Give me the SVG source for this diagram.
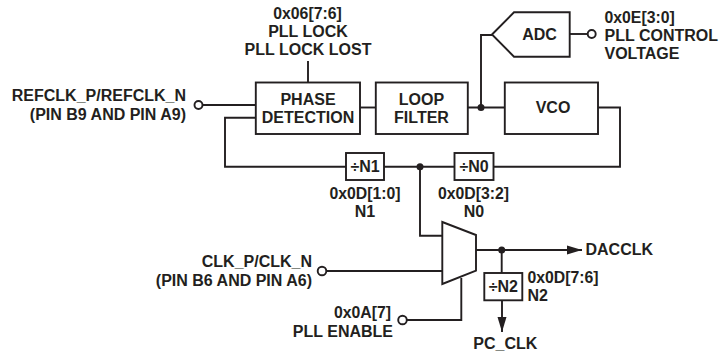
<svg xmlns="http://www.w3.org/2000/svg" width="721" height="358" viewBox="0 0 721 358">
<defs>
<marker id="arrow" markerUnits="userSpaceOnUse" markerWidth="16" markerHeight="10" refX="15" refY="5" orient="auto"><path d="M0 0.5L15 5L0 9.5Z" fill="#231f20"/></marker>
</defs>
<style>
text{font-family:"Liberation Sans",Arial,sans-serif;font-weight:700;font-size:16px;fill:#231f20}
.m{text-anchor:middle}.e{text-anchor:end}
.n{font-size:15.8px}
.b{fill:#fff;stroke:#231f20;stroke-width:1.9}
.w{fill:none;stroke:#231f20;stroke-width:1.9}
.d{fill:#231f20}
.o{fill:#fff;stroke:#231f20;stroke-width:1.9}
</style>
<rect width="721" height="358" fill="#fff"/>
<g id="connectors">
<path class="w" d="M308 61V82.5"/>
<path class="w" d="M203 105H256"/>
<path class="w" d="M256 117.7H225V166.7H346"/>
<path class="w" d="M360 107.5H376"/>
<path class="w" d="M467.7 107.5H505"/>
<path class="w" d="M481 107.5V35H492"/>
<path class="w" d="M569.7 34H587.5"/>
<path class="w" d="M598 107.5H620V166.7H493.5"/>
<path class="w" d="M384 166.7H454.5"/>
<path class="w" d="M420 166.7V235.7H442.3"/>
<path class="w" d="M327 271H442.3"/>
<path class="w" d="M407 320H461.3V278"/>
<path class="w" d="M476 250H582" marker-end="url(#arrow)"/>
<path class="w" d="M501.7 250V273"/>
<path class="w" d="M502 300.5V332" marker-end="url(#arrow)"/>
<circle class="d" cx="481" cy="107.5" r="3.5"/>
<circle class="d" cx="420" cy="166.7" r="3.5"/>
<circle class="d" cx="501.7" cy="250" r="3.5"/>
<circle class="o" cx="198.5" cy="105" r="4"/>
<circle class="o" cx="591.7" cy="34" r="4"/>
<circle class="o" cx="322" cy="271" r="4.3"/>
<circle class="o" cx="402.5" cy="320" r="4.3"/>
</g>
<g id="phase"><rect class="b" x="255.8" y="82.5" width="104.2" height="51.5"/><text class="m" x="308" y="105">PHASE</text><text class="m" x="308" y="123">DETECTION</text></g>
<g id="loop"><rect class="b" x="375.8" y="82.5" width="92" height="51.5"/><text class="m" x="421.5" y="105">LOOP</text><text class="m" x="421.5" y="123">FILTER</text></g>
<g id="vco"><rect class="b" x="504.8" y="82.5" width="93.2" height="51.5"/><text class="m" x="553" y="112.5">VCO</text></g>
<g id="adc"><path class="b" d="M492 34.5L514 12.3H569.7V56.7H514Z"/><text class="m" x="539.5" y="39.5">ADC</text></g>
<g id="n1"><rect class="b" x="346" y="153" width="38" height="27"/><text class="m" x="365" y="172">÷N1</text></g>
<g id="n0"><rect class="b" x="454.5" y="153" width="39" height="27"/><text class="m" x="474" y="172">÷N0</text></g>
<g id="n2"><rect class="b" x="484.3" y="273" width="38" height="27.3"/><text class="m" x="503.3" y="292">÷N2</text></g>
<g id="mux"><path class="b" d="M442.3 222L476 235V270.7L442.3 284Z"/></g>
<g id="labels">
<text class="m n" x="307.5" y="18.5">0x06[7:6]</text>
<text class="m" x="308" y="37">PLL LOCK</text>
<text class="m" x="308" y="55">PLL LOCK LOST</text>
<text class="e" x="186" y="101">REFCLK_P/REFCLK_N</text>
<text class="e" x="186" y="120">(PIN B9 AND PIN A9)</text>
<text class="n" x="604.5" y="22.5">0x0E[3:0]</text>
<text x="604.5" y="40.5">PLL CONTROL</text>
<text x="604.5" y="59">VOLTAGE</text>
<text class="m n" x="365" y="198.5">0x0D[1:0]</text>
<text class="m" x="365" y="217">N1</text>
<text class="m n" x="473.5" y="198.5">0x0D[3:2]</text>
<text class="m" x="474" y="217">N0</text>
<text class="e" x="312" y="267">CLK_P/CLK_N</text>
<text class="e" x="312" y="286">(PIN B6 AND PIN A6)</text>
<text class="e n" x="391" y="318">0x0A[7]</text>
<text class="e" x="393" y="336.5">PLL ENABLE</text>
<text x="585.5" y="255">DACCLK</text>
<text class="n" x="527.5" y="282.5">0x0D[7:6]</text>
<text x="527.5" y="301">N2</text>
<text class="m" x="505.3" y="348.5">PC_CLK</text>
</g>
</svg>
